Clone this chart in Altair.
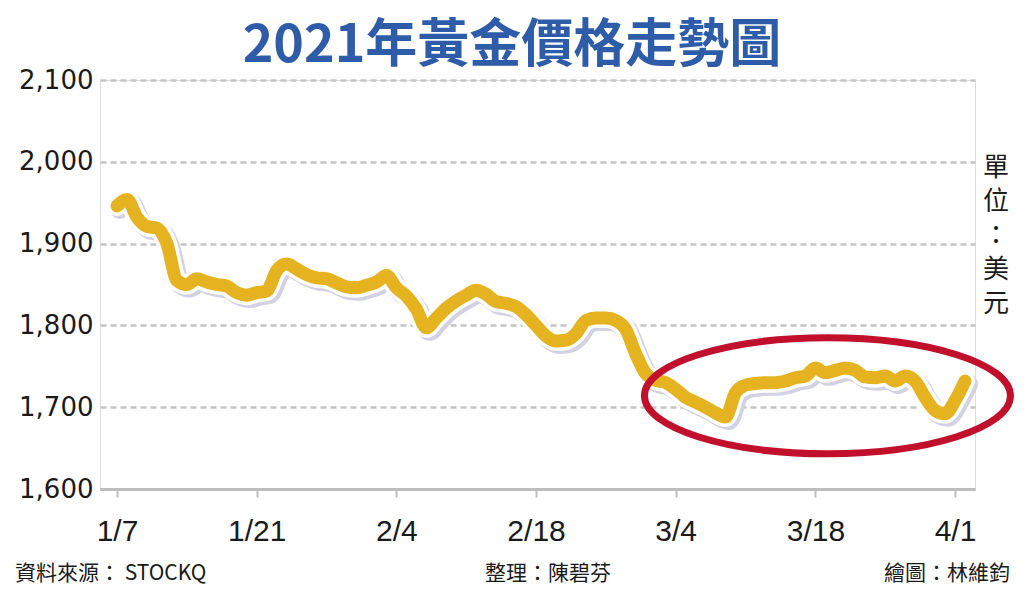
import pandas as pd
import altair as alt

# daily gold price, 2021-01-07 .. 2021-04-02 (USD)
price = [
    1946, 1954, 1932, 1921, 1919, 1900, 1855, 1850, 1857, 1853,
    1850, 1848, 1840, 1837, 1840, 1842, 1867, 1875, 1869, 1862,
    1858, 1857, 1852, 1847, 1846, 1849, 1853, 1861, 1846, 1836,
    1820, 1797, 1809, 1821, 1830, 1837, 1843, 1838, 1829, 1827,
    1823, 1813, 1800, 1787, 1781, 1782, 1790, 1806, 1809, 1809,
    1806, 1795, 1765, 1741, 1733, 1730, 1722, 1712, 1706, 1700,
    1693, 1688, 1718, 1727, 1729, 1730, 1730, 1732, 1736, 1738,
    1748, 1742, 1745, 1748, 1745, 1737, 1736, 1738, 1732, 1738,
    1732, 1712, 1696, 1692, 1708, 1732,
]
dates = pd.date_range("2021-01-07", periods=len(price), freq="D")
tick_dates = ["2021-01-07", "2021-01-21", "2021-02-04", "2021-02-18",
              "2021-03-04", "2021-03-18", "2021-04-01"]
y_ticks = [1600, 1700, 1800, 1900, 2000, 2100]

title = "2021年黃金價格走勢圖"
unit = ["單", "位", "：", "美", "元"]
source = "資料來源： STOCKQ"
editor = "整理：陳碧芬"
artist = "繪圖：林維鈞"

# highlighted period (centre of the red ring)
ring = pd.DataFrame({"date": [pd.Timestamp("2021-03-19 05:00")], "price": [1714]})

df = pd.DataFrame({"date": dates, "price": price})

CJK = "Noto Sans CJK TC"
x_enc = alt.X("date:T").scale(
    domain=["2021-01-05T07:00:00", "2021-04-03T00:00:00"]
).axis(
    values=[pd.Timestamp(d).isoformat() for d in tick_dates],
    format="%-m/%-d", title=None, grid=False,
    domainColor="#bdbdbd", domainWidth=3,
    tickColor="#bdbdbd", tickWidth=2, tickSize=8,
    labelFont="Liberation Sans Narrow, Liberation Sans", labelFontSize=30,
    labelColor="#1a1a1a", labelPadding=19, labelFlush=False,
)
y_enc = alt.Y("price:Q").scale(domain=[1600, 2100], nice=False, zero=False).axis(
    values=y_ticks, format=",d", title=None, domain=False,
    ticks=False, tickSize=0, labelPadding=7,
    labelFont="DejaVu Sans", labelFontSize=26, labelColor="#1a1a1a",
    gridColor="#c4c4c4", gridDash=[6, 4], gridWidth=2.5,
)

base = alt.Chart(df).encode(x=x_enc, y=y_enc)
shadow = base.mark_line(
    color="#d2d2e2", strokeWidth=20, interpolate="monotone",
    strokeCap="round", strokeJoin="round", xOffset=3, yOffset=3,
)
halo = base.mark_line(
    color="white", strokeWidth=20, interpolate="monotone",
    strokeCap="round", strokeJoin="round",
)
gold = base.mark_line(
    color="#e6b320", strokeWidth=13, interpolate="monotone",
    strokeCap="round", strokeJoin="round",
)

ellipse_path = (
    "M -1 0 C -1 -0.175 -0.552 -0.317 0 -0.317 "
    "C 0.552 -0.317 1 -0.175 1 0 "
    "C 1 0.175 0.552 0.317 0 0.317 "
    "C -0.552 0.317 -1 0.175 -1 0 Z"
)
circle = alt.Chart(ring).mark_point(
    shape=ellipse_path, size=366 * 366, filled=False,
    stroke="#c0102c", strokeWidth=7, opacity=1,
).encode(x="date:T", y="price:Q")


def label(txt, x, y, size, align="left", color="#1a1a1a", **kw):
    return alt.Chart(pd.DataFrame({"t": [0]})).mark_text(
        text=txt, align=align, baseline="alphabetic", font=CJK,
        fontSize=size, color=color, **kw
    ).encode(x=alt.value(x), y=alt.value(y))


head = label(title, 412, -18, 52, align="center", fontWeight="bold", color="#2f5ca8")
unit_txt = alt.Chart(pd.DataFrame({"t": [0]})).mark_text(
    text=unit, align="center", baseline="top", font=CJK, fontSize=26,
    lineHeight=34, color="#1a1a1a",
).encode(x=alt.value(896), y=alt.value(75))
src = label(source, -85, 500, 21)
edt = label(editor, 385, 500, 21)
art = label(artist, 910, 500, 21, align="right")

chart = (
    alt.layer(shadow, halo, gold, circle, head, unit_txt, src, edt, art)
    .properties(
        width=875, height=409,
        autosize=alt.AutoSizeParams(type="none"),
        padding={"left": 92, "top": 72, "right": 41, "bottom": 95},
    )
    .configure_view(stroke=None)
    .configure(background="white")
)

chart.save("out.html", embed_options={"renderer": "svg", "actions": False})
